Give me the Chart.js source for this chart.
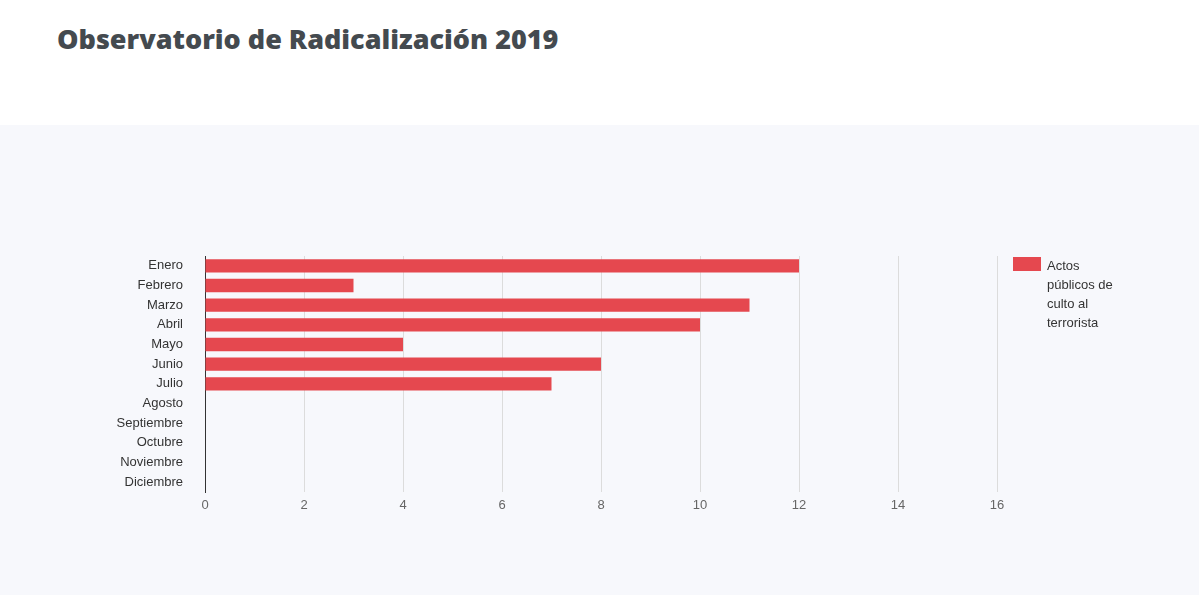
<!DOCTYPE html>
<html><head><meta charset="utf-8">
<script src="https://cdn.jsdelivr.net/npm/chart.js@4"></script>
<style>
html,body{margin:0;padding:0;width:1199px;height:595px;overflow:hidden;background:#fff;font-family:"Liberation Sans",Arial,sans-serif}
#title{position:absolute;left:57px;top:20px;font-family:"Open Sans",sans-serif;font-weight:800;font-size:27px;color:#444a4f}
#panel{position:absolute;left:0;top:125px;width:1199px;height:470px;background:#f7f8fc}
#legend{position:absolute;left:1013px;top:256px;display:flex;font-size:13px;color:#333;line-height:19px}
#legend .sw{width:28px;height:14px;background:#e5484f;margin-right:6px;margin-top:1px;flex:none}
</style></head><body>
<div id="title">Observatorio de Radicalización 2019</div>
<div id="panel"><canvas id="c" width="1199" height="470"></canvas></div>
<div id="legend"><div class="sw"></div><div id="lt"></div></div>
<script>
const categories=["Enero","Febrero","Marzo","Abril","Mayo","Junio","Julio","Agosto","Septiembre","Octubre","Noviembre","Diciembre"];
const seriesLabel="Actos públicos de culto al terrorista";
const values=[12,3,11,10,4,8,7,null,null,null,null,null];
const xTicks=[0,2,4,6,8,10,12,14,16];
document.getElementById('lt').innerHTML="Actos<br>públicos de<br>culto al<br>terrorista";
new Chart(document.getElementById('c'),{type:'bar',
data:{labels:categories,datasets:[{label:seriesLabel,data:values,backgroundColor:'#e5484f',categoryPercentage:0.68,barPercentage:1}]},
options:{indexAxis:'y',responsive:false,animation:false,
layout:{padding:{left:0,right:202,top:131,bottom:0}},
plugins:{legend:{display:false},tooltip:{enabled:false}},
scales:{
x:{min:0,max:16,afterFit:s=>{s.height=103},afterBuildTicks:s=>{s.ticks=xTicks.map(v=>({value:v}))},
 ticks:{color:'#666',font:{family:'Liberation Sans',size:13},padding:6},
 grid:{color:'#dcdcdc',drawTicks:false},border:{display:false}},
y:{afterFit:s=>{s.width=205},ticks:{color:'#333',font:{family:'Liberation Sans',size:13},padding:14},
 grid:{display:false},border:{color:'#333',width:1}}
}}});
</script></body></html>
